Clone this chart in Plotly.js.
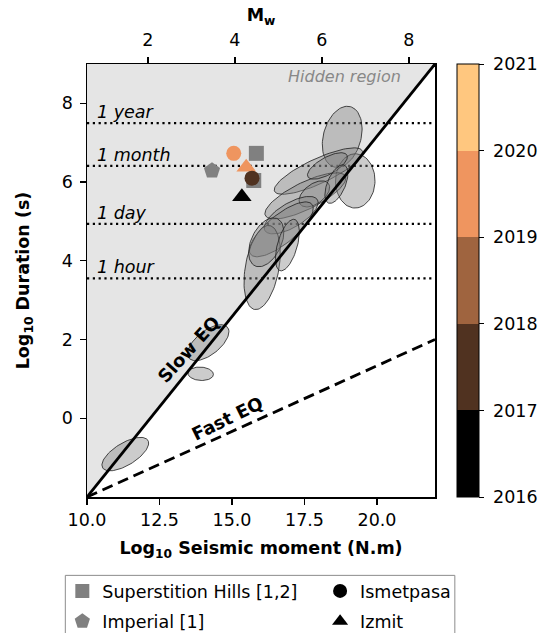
<!DOCTYPE html>
<html>
<head>
<meta charset="utf-8">
<script src="https://cdn.plot.ly/plotly-3.0.1.min.js"></script>
<style>
  html, body { margin: 0; padding: 0; background: #fff; }
  #chart { width: 545px; height: 633px; }
</style>
</head>
<body>
<div id="chart"></div>
<script>
// Axis extents (log10 seismic moment, log10 duration)
const xRange = [10, 22];
const yRange = [-2, 9];
const xTickVals = [10, 12.5, 15, 17.5, 20];
const xTickText = ['10.0', '12.5', '15.0', '17.5', '20.0'];
const yTickVals = [0, 2, 4, 6, 8];
const mwTickVals = [2, 4, 6, 8];

// Scaling relations
const slowX = [10, 22];
const slowY = [-2, 9];
const fastX = [10, 22];
const fastY = [-2, 2];

// Reference durations (log10 seconds)
const durNames = ['1 year', '1 month', '1 day', '1 hour'];
const durValues = [7.499, 6.414, 4.936, 3.556];

// Slow-slip catalogue: uncertainty ellipses (centre, semi-axes, angle in degrees)
const ellCx  = [18.80, 19.25, 17.98, 17.53, 17.84, 18.29, 18.60, 17.04, 16.70, 16.04, 16.18, 16.91, 14.18, 13.92, 11.32];
const ellCy  = [7.15, 6.03, 6.28, 5.65, 5.70, 6.41, 5.95, 5.16, 4.80, 3.83, 4.47, 4.40, 1.92, 1.13, -0.91];
const ellA   = [0.83, 0.69, 1.60, 1.47, 0.56, 0.73, 0.56, 0.99, 1.24, 1.10, 0.73, 0.70, 0.78, 0.44, 0.86];
const ellB   = [0.62, 0.68, 0.33, 0.36, 0.27, 0.23, 0.29, 0.33, 0.40, 0.57, 0.47, 0.33, 0.33, 0.17, 0.30];
const ellAng = [57.8, 70.1, 18.2, 19.0, 23.1, 20.7, 55.5, 21.5, 29.1, 74.0, 46.5, 66.3, 26.5, -2.2, 21.9];

// Creep events on the North Anatolian and Imperial/Superstition faults
const superX = [15.84, 15.75];
const superY = [6.73, 6.04];
const imperialX = [14.31];
const imperialY = [6.29];
const izmitX = [15.49, 15.34];
const izmitY = [6.38, 5.63];
const izmitYear = [2019.5, 2016.5];
const ismetX = [15.06, 15.69];
const ismetY = [6.73, 6.10];
const ismetYear = [2019.5, 2017.5];

// Year colour bar
const yearMin = 2016;
const yearMax = 2021;
const yearColors = ['#000000', '#503220', '#9f643f', '#ef955f', '#ffc77f'];
const yearTicks = [2016, 2017, 2018, 2019, 2020, 2021];

const FONT = 'DejaVu Sans, Liberation Sans, sans-serif';

// Stepped colourscale: one band per year
const colorscale = [];
yearColors.forEach((c, i) => {
  colorscale.push([i / yearColors.length, c]);
  colorscale.push([(i + 1) / yearColors.length, c]);
});

// Moment magnitude from log10 moment (N.m)
const toMw = m => (2 / 3) * (m - 9.1);

const traces = [];

// Region above the slow-earthquake line
traces.push({
  x: [slowX[0], slowX[1], slowX[0]],
  y: [slowY[0], slowY[1], slowY[1]],
  mode: 'lines', fill: 'toself', fillcolor: '#e5e5e5',
  line: { width: 0 }, hoverinfo: 'skip', showlegend: false
});

// Dotted duration references
const hx = [], hy = [];
durValues.forEach(v => { hx.push(xRange[0], xRange[1], null); hy.push(v, v, null); });
traces.push({
  x: hx, y: hy, mode: 'lines',
  line: { color: '#000', width: 2.2, dash: '2.2px,3.6px' },
  hoverinfo: 'skip', showlegend: false
});

// Ellipses
for (let k = 0; k < ellCx.length; k++) {
  const th = ellAng[k] * Math.PI / 180;
  const ex = [], ey = [];
  for (let i = 0; i <= 90; i++) {
    const t = 2 * Math.PI * i / 90;
    ex.push(ellCx[k] + ellA[k] * Math.cos(t) * Math.cos(th) - ellB[k] * Math.sin(t) * Math.sin(th));
    ey.push(ellCy[k] + ellA[k] * Math.cos(t) * Math.sin(th) + ellB[k] * Math.sin(t) * Math.cos(th));
  }
  traces.push({
    x: ex, y: ey, mode: 'lines', fill: 'toself',
    fillcolor: 'rgba(128,128,128,0.4)',
    line: { color: 'rgba(30,30,30,0.8)', width: 1 },
    hoverinfo: 'skip', showlegend: false
  });
}

// Scaling lines
traces.push({
  x: slowX, y: slowY, mode: 'lines',
  line: { color: '#000', width: 2.8 }, hoverinfo: 'skip', showlegend: false
});
traces.push({
  x: fastX, y: fastY, mode: 'lines',
  line: { color: '#000', width: 2.8, dash: '11px,6px' }, hoverinfo: 'skip', showlegend: false
});

// Events
traces.push({
  x: superX, y: superY, mode: 'markers', showlegend: false,
  marker: { symbol: 'square', size: 15, color: '#808080' }
});
traces.push({
  x: imperialX, y: imperialY, mode: 'markers', showlegend: false,
  marker: { symbol: 'pentagon', size: 17, color: '#808080' }
});
traces.push({
  x: izmitX, y: izmitY, mode: 'markers', showlegend: false,
  marker: { symbol: 'triangle-up', size: 17, color: izmitYear,
            colorscale: colorscale, cmin: yearMin, cmax: yearMax, showscale: false }
});
traces.push({
  x: ismetX, y: ismetY, mode: 'markers', showlegend: false,
  marker: {
    symbol: 'circle', size: 15, color: ismetYear,
    colorscale: colorscale, cmin: yearMin, cmax: yearMax, showscale: true,
    colorbar: {
      x: 1.0624, xanchor: 'left', xref: 'paper', xpad: 0,
      y: 0.5, yanchor: 'middle', len: 1, lenmode: 'fraction', ypad: 0,
      thickness: 22, thicknessmode: 'pixels',
      outlinewidth: 1, outlinecolor: '#000',
      tickmode: 'array', tickvals: yearTicks, ticktext: yearTicks.map(v => '\u00a0' + v),
      ticks: 'outside', ticklen: 5, tickcolor: '#000',
      tickfont: { family: FONT, size: 17.5, color: '#000' }
    }
  }
});

// Legend entries
const legendDefs = [
  { name: 'Superstition Hills [1,2]', symbol: 'square', color: '#808080', size: 14, legend: 'legend' },
  { name: 'Imperial [1]', symbol: 'pentagon', color: '#808080', size: 16, legend: 'legend2' },
  { name: 'Ismetpasa', symbol: 'circle', color: '#000', size: 14, legend: 'legend3' },
  { name: 'Izmit', symbol: 'triangle-up', color: '#000', size: 14, legend: 'legend4' }
];
legendDefs.forEach(d => {
  traces.push({
    x: [null], y: [null], mode: 'markers', name: d.name, legend: d.legend,
    showlegend: true, marker: { symbol: d.symbol, color: d.color, size: d.size }
  });
});

// Anchor trace for the magnitude axis
traces.push({
  x: [toMw(xRange[0]), toMw(xRange[1])], y: [null, null], xaxis: 'x2', yaxis: 'y',
  mode: 'markers', showlegend: false, hoverinfo: 'skip'
});

const annotations = durNames.map((n, i) => ({
  x: 10.26, y: durValues[i], xref: 'x', yref: 'y',
  text: '<i>' + n + '</i>', showarrow: false,
  xanchor: 'left', yanchor: 'bottom', yshift: -1,
  font: { family: FONT, size: 17.5, color: '#000' }
}));
annotations.push({
  x: 20.90, y: 8.67, xref: 'x', yref: 'y', text: '<i>Hidden region</i>',
  showarrow: false, xanchor: 'right', yanchor: 'middle',
  font: { family: FONT, size: 16, color: '#888' }
});
annotations.push({
  x: 13.50, y: 1.74, xref: 'x', yref: 'y', text: '<b>Slow EQ</b>',
  showarrow: false, textangle: -48, xanchor: 'center', yanchor: 'middle',
  font: { family: FONT, size: 18, color: '#000' }
});
annotations.push({
  x: 14.83, y: 0.0, xref: 'x', yref: 'y', text: '<b>Fast EQ</b>',
  showarrow: false, textangle: -26, xanchor: 'center', yanchor: 'middle',
  font: { family: FONT, size: 18, color: '#000' }
});

const legendBase = {
  bgcolor: 'rgba(0,0,0,0)', borderwidth: 0,
  font: { family: FONT, size: 17.5, color: '#000' },
  xanchor: 'left', yanchor: 'middle', itemsizing: 'trace'
};

const axisFont = { family: FONT, size: 17.5, color: '#000' };

const layout = {
  width: 545, height: 633,
  margin: { l: 87, r: 110, t: 64, b: 136, autoexpand: false },
  paper_bgcolor: '#fff', plot_bgcolor: '#fff',
  font: { family: FONT, color: '#000' },
  showlegend: true,
  xaxis: {
    range: xRange, tickmode: 'array', tickvals: xTickVals, ticktext: xTickText,
    ticks: 'outside', ticklen: 6, tickwidth: 1.3, tickcolor: '#000',
    showline: true, linecolor: '#000', linewidth: 1.5, mirror: true,
    showgrid: false, zeroline: false, tickfont: axisFont,
    title: { text: '<b>Log<sub>10</sub> Seismic moment (N.m)</b>', font: axisFont, standoff: 13 }
  },
  xaxis2: {
    overlaying: 'x', side: 'top', anchor: 'y',
    range: [toMw(xRange[0]), toMw(xRange[1])],
    tickmode: 'array', tickvals: mwTickVals,
    ticks: 'outside', ticklen: 6, tickwidth: 1.3, tickcolor: '#000',
    ticklabelstandoff: 4,
    showline: false, showgrid: false, zeroline: false, tickfont: axisFont,
    title: { text: '<b>M<sub>w</sub></b>', font: axisFont, standoff: 3 }
  },
  yaxis: {
    range: yRange, tickmode: 'array', tickvals: yTickVals,
    ticks: 'outside', ticklen: 6, tickwidth: 1.3, tickcolor: '#000',
    ticklabelstandoff: 3,
    showline: true, linecolor: '#000', linewidth: 1.5, mirror: true,
    showgrid: false, zeroline: false, tickfont: axisFont,
    title: { text: '<b>Log<sub>10</sub> Duration (s)</b>', font: axisFont, standoff: 27 }
  },
  legend:  Object.assign({}, legendBase, { x: -0.0709, y: -0.2172 }),
  legend2: Object.assign({}, legendBase, { x: -0.0709, y: -0.2873 }),
  legend3: Object.assign({}, legendBase, { x: 0.6698, y: -0.2172 }),
  legend4: Object.assign({}, legendBase, { x: 0.6698, y: -0.2873 }),
  shapes: [{
    type: 'rect', xref: 'paper', yref: 'paper',
    x0: -0.0623, x1: 1.057, y0: -0.40, y1: -0.181,
    line: { color: '#8c8c8c', width: 1 }, fillcolor: 'rgba(0,0,0,0)', layer: 'above'
  }],
  annotations: annotations
};

Plotly.newPlot('chart', traces, layout, { displayModeBar: false, staticPlot: true });
</script>
</body>
</html>
